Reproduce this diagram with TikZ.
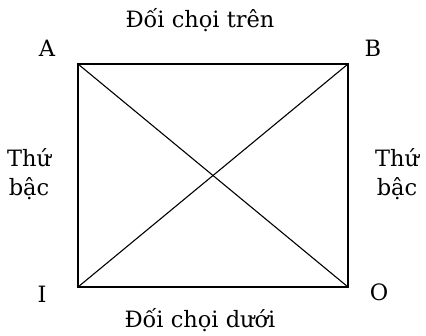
\documentclass[tikz,border=0pt]{standalone}
\usepackage{fontspec}
\setmainfont{DejaVu Serif}
\begin{document}
\begin{tikzpicture}[x=1pt,y=-1pt,
  lbl/.style={font=\fontsize{22.5}{29}\selectfont, inner sep=0pt},
  edge/.style={line width=1.4pt, line cap=rect}]
\useasboundingbox (0,0) rectangle (426,335);
\coordinate (A) at (78,64);
\coordinate (B) at (348,64);
\coordinate (I) at (78,287);
\coordinate (O) at (348,287);
\draw[edge] (A) -- (B) -- (O) -- (I) -- cycle;
\draw[line width=1.1pt] (A) -- (O);
\draw[line width=1.1pt] (B) -- (I);
\node[lbl] (la) at (47,48) {A};
\node[lbl] (lb) at (373,48) {B};
\node[lbl] (li) at (42,294) {I};
\node[lbl] (lo) at (379,292) {O};
\node[lbl] (top) at (200,20) {Đối chọi trên};
\node[lbl] (bot) at (200,320) {Đối chọi dưới};
\node[lbl, align=center] (left) at (29,174) {Thứ\\bậc};
\node[lbl, align=center] (right) at (397,174) {Thứ\\bậc};
\end{tikzpicture}
\end{document}
